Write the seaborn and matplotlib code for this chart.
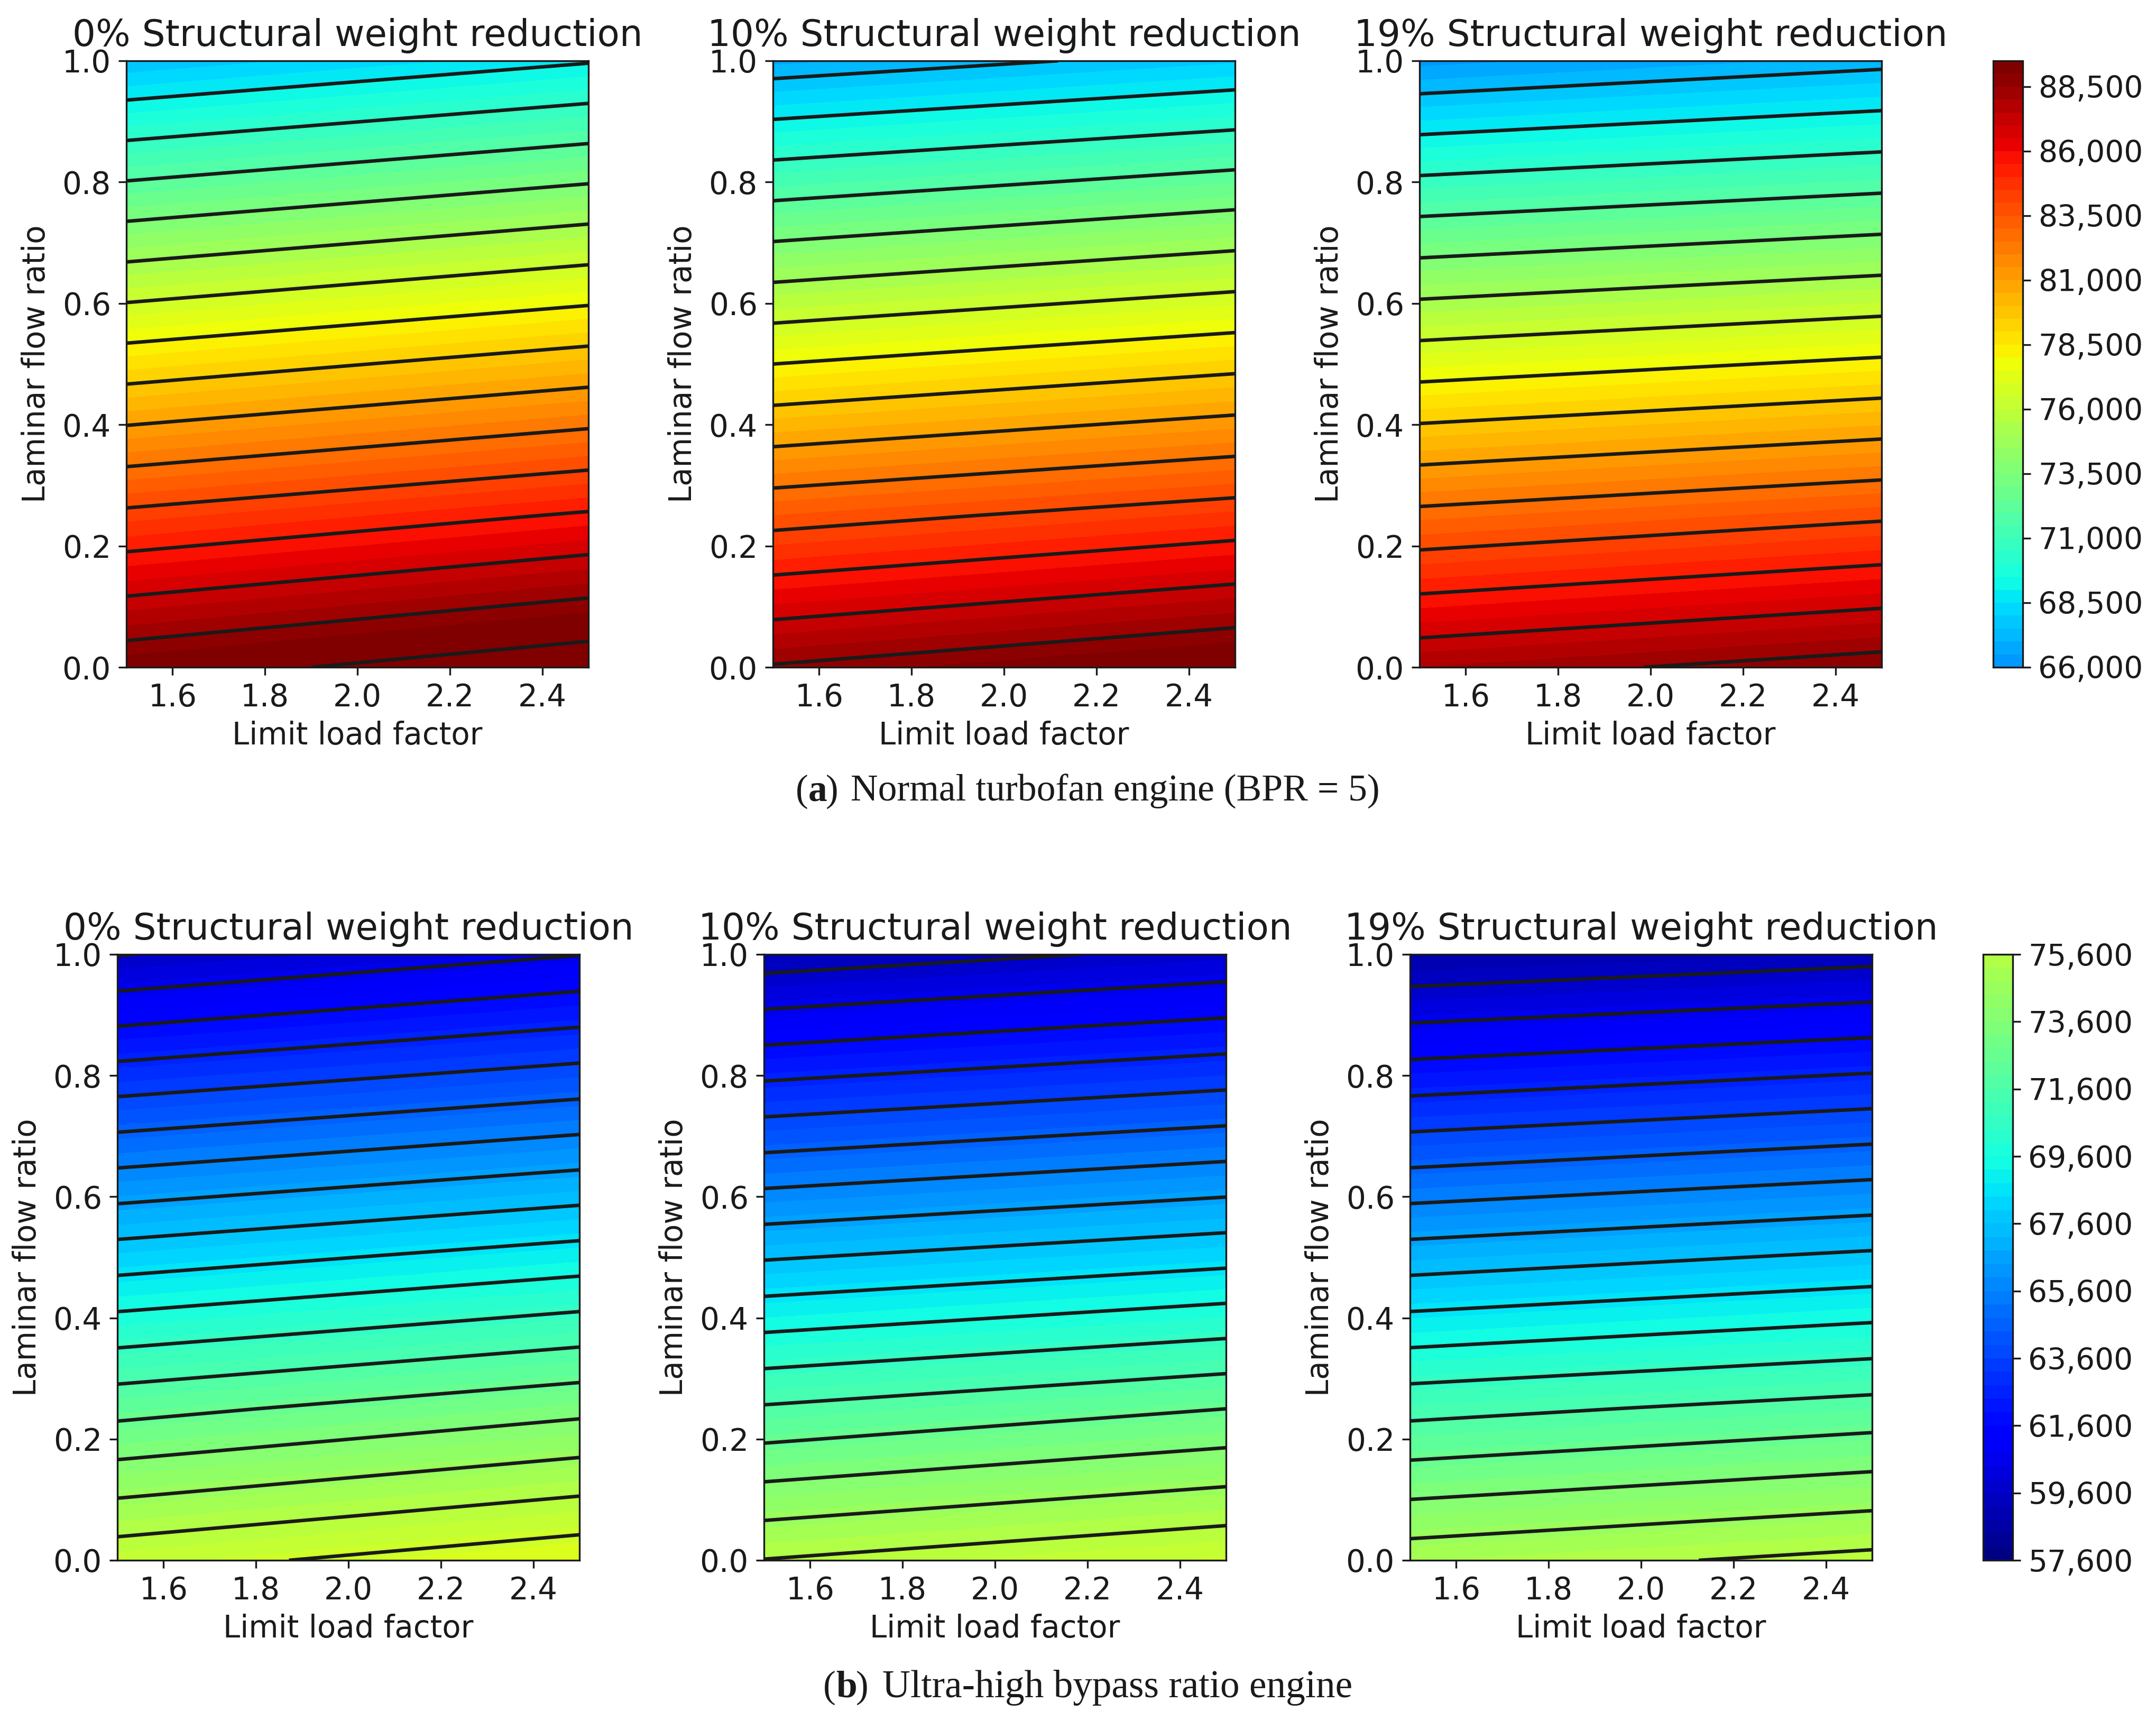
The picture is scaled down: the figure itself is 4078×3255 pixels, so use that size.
import numpy as np
import seaborn as sns
import matplotlib
matplotlib.use("Agg")
import matplotlib.pyplot as plt
from matplotlib.cm import ScalarMappable
from matplotlib.colors import Normalize

sns.set_theme(style="ticks", rc={'text.color': 'k', 'axes.labelcolor': 'k', 'xtick.color': 'k',
                                 'ytick.color': 'k', 'axes.edgecolor': 'k'})
plt.rcParams['font.family'] = ['DejaVu Sans']

# Eixos dos graficos
load_factor = [1.5, 2.5]
laminar_ratio = [0.0, 0.25, 0.5, 0.75, 1.0]

# Valores: uma linha por laminar_ratio, [n=1.5, n=2.5]
turbofan_0 = [[89400, 90900], [84280, 85650], [78770, 80160], [73170, 74570], [67540, 68910]]
turbofan_10 = [[88600, 89860], [83500, 84650], [78000, 79150], [72430, 73600], [66840, 67910]]
turbofan_19 = [[88000, 89030], [82830, 83810], [77350, 78250], [71850, 72700], [66290, 67190]]
uhbr_0 = [[76210, 77260], [72280, 73340], [68100, 69070], [63860, 64790], [59560, 60570]]
uhbr_10 = [[75630, 76490], [71710, 72600], [67520, 68290], [63290, 64040], [59070, 59840]]
uhbr_19 = [[75150, 75870], [71290, 71990], [67100, 67790], [62870, 63520], [58716, 59260]]

titles = ["0% Structural weight reduction", "10% Structural weight reduction", "19% Structural weight reduction"]
x_ticks = [1.6, 1.8, 2.0, 2.2, 2.4]
y_ticks = [0.0, 0.2, 0.4, 0.6, 0.8, 1.0]

# Niveis de cor e de linha
fill_a = np.arange(66000, 91501, 500)
fill_b = np.arange(57600, 77601, 400)
lines_a = np.arange(66000, 91501, 1500)
lines_b = np.arange(57600, 77601, 1000)
bar_a = np.arange(66000, 89501, 500)
bar_b = np.arange(57600, 75601, 400)
ticks_a = [66000, 68500, 71000, 73500, 76000, 78500, 81000, 83500, 86000, 88500]
ticks_b = [57600, 59600, 61600, 63600, 65600, 67600, 69600, 71600, 73600, 75600]

W, H = 4079, 3255
cmap = matplotlib.colormaps["jet"]
v_min, v_max = 57600, 89200


# Converte retangulo em pixels para coordenadas da figura
def eixo(fig, x0, x1, y0, y1):
    return fig.add_axes([x0 / W, 1 - y1 / H, (x1 - x0) / W, (y1 - y0) / H])


def painel(fig, caixa, dados, titulo, fill, lines):
    ax = eixo(fig, *caixa)
    z = np.array(dados)
    ax.contourf(load_factor, laminar_ratio, z, levels=fill, cmap=cmap, norm=Normalize(v_min, v_max))
    ax.contour(load_factor, laminar_ratio, z, levels=lines, colors='k', linewidths=1.6)
    ax.set_title(titulo, fontsize=16.6, pad=6.8)
    ax.set_xlabel("Limit load factor", fontsize=13.9, labelpad=3.5)
    ax.set_ylabel("Laminar flow ratio", fontsize=13.9, labelpad=5)
    ax.set_xticks(x_ticks)
    ax.set_yticks(y_ticks)
    ax.set_xlim(1.5, 2.5)
    ax.set_ylim(0, 1)
    ax.tick_params(labelsize=13.9, length=3.5, width=0.8, pad=3.5)
    for s in ax.spines.values():
        s.set_visible(True)
        s.set_linewidth(0.8)
    return ax


def barra(fig, caixa, bounds, ticks):
    cax = eixo(fig, *caixa)
    # cada barra com a sua propria norma, senao a segunda reinicia os rotulos da primeira
    sm = ScalarMappable(norm=Normalize(v_min, v_max), cmap=cmap)
    cb = fig.colorbar(sm, cax=cax, boundaries=bounds, spacing='proportional')
    cb.set_ticks(ticks, labels=[f"{t:,}" for t in ticks])
    cb.ax.tick_params(labelsize=13.6, length=3.5, width=0.8, pad=3.5)
    cb.outline.set_linewidth(0.8)


fig = plt.figure(figsize=(W / 300, H / 300), dpi=300)

painel(fig, (239, 1113, 115, 1262), turbofan_0, titles[0], fill_a, lines_a)
painel(fig, (1462, 2336, 115, 1262), turbofan_10, titles[1], fill_a, lines_a)
painel(fig, (2685, 3559, 115, 1262), turbofan_19, titles[2], fill_a, lines_a)
barra(fig, (3770, 3826, 115, 1262), bar_a, ticks_a)

painel(fig, (222, 1096, 1805, 2951), uhbr_0, titles[0], fill_b, lines_b)
painel(fig, (1445, 2319, 1805, 2951), uhbr_10, titles[1], fill_b, lines_b)
painel(fig, (2667, 3541, 1805, 2951), uhbr_19, titles[2], fill_b, lines_b)
barra(fig, (3751, 3807, 1805, 2951), bar_b, ticks_b)

# Legendas das subfiguras
fs = 17.2
fig.text(1505 / W, 1 - 1497 / H, "(", family='Liberation Serif', fontsize=fs, va='center')
fig.text(1529 / W, 1 - 1497 / H, "a", family='Liberation Serif', fontsize=fs, weight='bold', va='center')
fig.text(1562 / W, 1 - 1497 / H, ")", family='Liberation Serif', fontsize=fs, va='center')
fig.text(1609 / W, 1 - 1497 / H, "Normal turbofan engine (BPR = 5)", family='Liberation Serif', fontsize=fs, va='center')
fig.text(1557 / W, 1 - 3192 / H, "(", family='Liberation Serif', fontsize=fs, va='center')
fig.text(1581 / W, 1 - 3192 / H, "b", family='Liberation Serif', fontsize=fs, weight='bold', va='center')
fig.text(1619 / W, 1 - 3192 / H, ")", family='Liberation Serif', fontsize=fs, va='center')
fig.text(1669 / W, 1 - 3192 / H, "Ultra-high bypass ratio engine", family='Liberation Serif', fontsize=17.6, va='center')

fig.savefig("out.png", dpi=300, facecolor='white')
